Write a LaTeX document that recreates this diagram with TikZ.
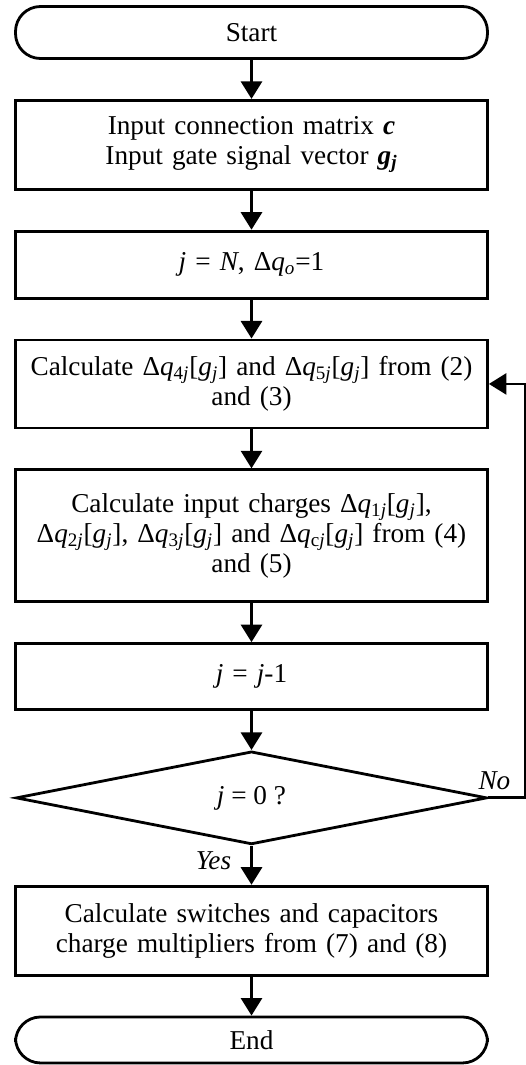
\documentclass[tikz,border=0pt]{standalone}
\usepackage{fontspec}
\setmainfont{Liberation Serif}
\usetikzlibrary{positioning,shapes.geometric,arrows.meta}

\begin{document}
\begin{tikzpicture}[node distance=0.78cm, line width=1.6pt, >={Triangle[length=10pt,width=12pt]},
  every node/.style={font=\fontsize{15.5}{17}\selectfont},
  term/.style={rectangle, draw, rounded corners=0.5cm, minimum width=9.44cm},
  proc/.style={rectangle, draw, align=center, text width=9.2cm, minimum width=9.44cm, inner sep=2pt},
  decide/.style={diamond, draw, minimum width=9.42cm, minimum height=1.76cm, inner sep=0pt}]
  \useasboundingbox (0,0) rectangle (10.52,-21.3);

  \node[term, minimum height=1.04cm] (start) at (5.03,-0.65) {Start};
  \node[proc, minimum height=1.78cm] (input) [below=of start] {Input connection matrix \textbf{\textit{c}}\\Input gate signal vector \textbf{\textit{g\textsubscript{j}}}};
  \node[proc, minimum height=1.34cm] (init) [below=of input] {\textit{j} = \textit{N}, Δ\textit{q}\textsubscript{\textit{o}}=1};
  \node[proc, minimum height=1.76cm] (calc45) [below=of init] {Calculate Δ\textit{q}\textsubscript{4\textit{j}}[\textit{g}\textsubscript{\textit{j}}] and Δ\textit{q}\textsubscript{5\textit{j}}[\textit{g}\textsubscript{\textit{j}}] from (2)\\and (3)};
  \node[proc, minimum height=2.64cm] (calcin) [below=of calc45] {Calculate input charges Δ\textit{q}\textsubscript{1\textit{j}}[\textit{g}\textsubscript{\textit{j}}],\\Δ\textit{q}\textsubscript{2\textit{j}}[\textit{g}\textsubscript{\textit{j}}], Δ\textit{q}\textsubscript{3\textit{j}}[\textit{g}\textsubscript{\textit{j}}] and Δ\textit{q}\textsubscript{c\textit{j}}[\textit{g}\textsubscript{\textit{j}}] from (4)\\and (5)};
  \node[proc, minimum height=1.32cm] (dec) [below=of calcin] {\textit{j} = \textit{j}-1};
  \node[decide] (test) [below=of dec] {\textit{j} = 0 ?};
  \node[proc, minimum height=1.78cm] (mult) [below=of test] {Calculate switches and capacitors\\charge multipliers from (7) and (8)};
  \node[term, minimum height=0.92cm] (end) [below=of mult] {End};

  \node (no) at ([xshift=0.12cm,yshift=0.34cm]test.east) {\textit{No}};
  \node (yes) at ([xshift=-0.76cm,yshift=-0.3cm]test.south) {\textit{Yes}};

  \draw[->] (start) -- (input);
  \draw[->] (input) -- (init);
  \draw[->] (init) -- (calc45);
  \draw[->] (calc45) -- (calcin);
  \draw[->] (calcin) -- (dec);
  \draw[->] (dec) -- (test);
  \draw[->] (test) -- (mult);
  \draw[->] (mult) -- (end);
  \draw[->] (test.east) -- ++(0.74,0) |- (calc45.east);
\end{tikzpicture}
\end{document}
